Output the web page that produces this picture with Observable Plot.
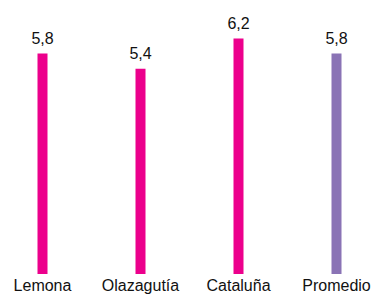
<!DOCTYPE html>
<html>
<head>
<meta charset="utf-8">
<script src="https://cdn.jsdelivr.net/npm/d3@7"></script>
<script src="https://cdn.jsdelivr.net/npm/@observablehq/plot@0.6"></script>
<style>
  html, body { margin: 0; padding: 0; background: #fff; }
  #chart svg { display: block; }
</style>
</head>
<body>
<div id="chart"></div>
<script>
const categories = ["Lemona", "Olazagutía", "Cataluña", "Promedio"];
const values = [5.8, 5.4, 6.2, 5.8];
const valueLabels = ["5,8", "5,4", "6,2", "5,8"];
const colors = ["#ec008c", "#ec008c", "#ec008c", "#8a73b5"];

const data = categories.map((c, i) => ({cat: c, value: values[i], label: valueLabels[i], color: colors[i]}));

const chart = Plot.plot({
  width: 372,
  height: 294,
  marginTop: 8,
  marginBottom: 20,
  marginLeft: 0,
  marginRight: 0,
  style: {fontFamily: "'Liberation Sans', Arial, sans-serif", fontSize: "16px", color: "#111", background: "#fff"},
  x: {type: "point", domain: categories, range: [42, 336], padding: 0, axis: null},
  y: {domain: [0, 7], axis: null},
  marks: [
    Plot.ruleX(data, {x: "cat", y1: 0, y2: "value", stroke: "color", strokeWidth: 10}),
    Plot.text(data, {x: "cat", y: "value", text: "label", lineAnchor: "middle", dy: -15, fontSize: 16, fill: "#111"}),
    Plot.text(data, {x: "cat", y: 0, text: "cat", lineAnchor: "middle", dy: 11, fontSize: 16, fill: "#111"})
  ]
});
document.getElementById("chart").appendChild(chart);
</script>
</body>
</html>
